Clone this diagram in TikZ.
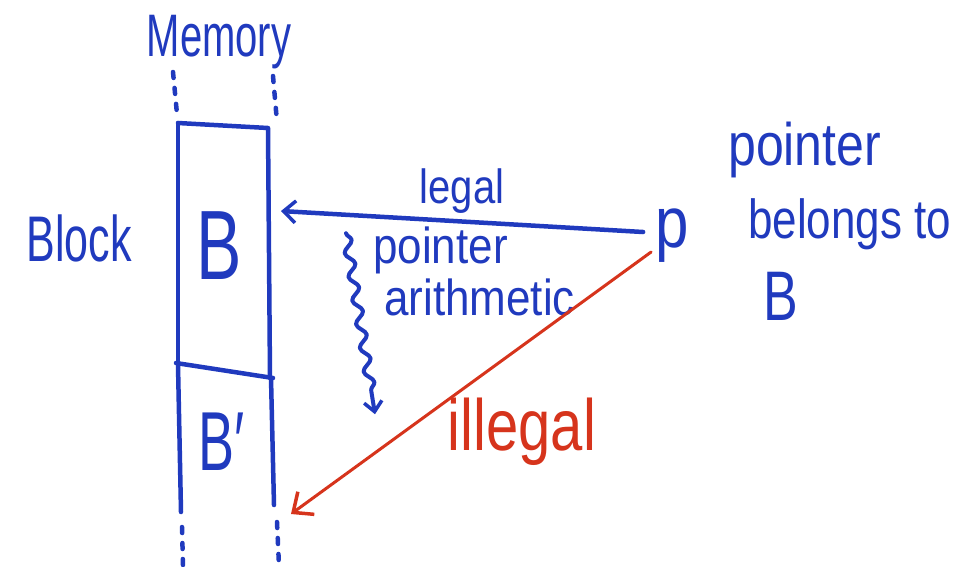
\documentclass[tikz,border=0pt]{standalone}
\usepackage{fontspec}
\setmainfont{Liberation Sans}
\usetikzlibrary{positioning, decorations.pathmorphing, arrows.meta}
\definecolor{penblue}{RGB}{32,58,190}
\definecolor{penred}{RGB}{214,52,28}
\newcommand{\handsize}[1]{\fontsize{#1}{#1}\selectfont}
\newcommand{\tall}[2]{\scalebox{1}[#1]{#2}}

\begin{document}
\begin{tikzpicture}[x=1pt, y=-1pt]
	\tikzstyle{ink}=[draw=penblue, line width=4.5pt, line cap=round, line join=round]
	\tikzstyle{dots}=[ink, dash pattern=on 6pt off 10pt]
	\tikzstyle{word}=[text=penblue, inner sep=0pt]
	\tikzstyle{barb}=[-{Straight Barb[length=12pt, width=22pt, line width=3.5pt]}]
	\useasboundingbox (0,0) rectangle (964,566);
	%
	% memory column
	\node[word, font=\handsize{40}] (memory) at (219,42) {\tall{1.5}{Memory}};
	\draw[dots] (173,72) -- (177,114);
	\draw[dots] (273,76) -- (277,122);
	\draw[ink] (178,123) -- (268,128) -- (270,378);
	\draw[ink] (178,123) -- (178,365);
	\draw[ink] (176,363) -- (273,378);
	\draw[ink] (178,365) -- (181,512);
	\draw[ink] (271,378) -- (274,505);
	\draw[dots] (182,527) -- (183,566);
	\draw[dots] (277,522) -- (279,566);
	\node[word, font=\handsize{68}] (blkB) at (219,246) {\tall{1.45}{B}};
	\node[word, font=\handsize{54}] (blkBp) at (222,442) {\tall{1.55}{B′}};
	\node[word, font=\handsize{43}, anchor=east] (block) at (132,238) {\tall{1.5}{Block}};
	%
	% pointer
	\node[word, font=\handsize{60}] (p) at (672,236) {\tall{1.2}{p}};
	\node[word, font=\handsize{50}, anchor=west] (ptr) at (728,150) {\tall{1.2}{pointer}};
	\node[word, font=\handsize{44}, anchor=west] (belongs) at (748,224) {\tall{1.25}{belongs to}};
	\node[word, font=\handsize{52}, anchor=west] (ptrB) at (763,296) {\tall{1.35}{B}};
	%
	\coordinate (Bside) at (281,211);
	\coordinate (Bpside) at (291,514);
	\draw[ink, barb] ([xshift=-12pt, yshift=4pt]p.west) -- (Bside)
		node[word, font=\handsize{40}, midway, above=6pt] (legal) {\tall{1.2}{legal}};
	\node[word, font=\handsize{44}, anchor=west] (ptrarith) at (373,250) {\tall{1.15}{pointer}};
	\node[word, font=\handsize{44}, anchor=west] (arith) at (384,297) {\tall{1.15}{arithmetic}};
	\draw[ink, line width=4pt, -{Straight Barb[length=10pt, width=18pt, line width=3.5pt]},
		decorate, decoration={snake, amplitude=4.5pt, segment length=24pt, post length=14pt}]
		([xshift=-27pt, yshift=-7pt]ptrarith.north west) -- ([xshift=2pt, yshift=-188pt]ptrarith.north west);
	\draw[draw=penred, line width=3pt, line cap=round,
		-{Straight Barb[length=16pt, width=28pt, line width=3.5pt]}]
		([xshift=-4pt, yshift=-16pt]p.west) -- (Bpside);
	\node[text=penred, inner sep=0pt, font=\handsize{58}] (illegal) at (522,432) {\tall{1.25}{illegal}};
\end{tikzpicture}
\end{document}
